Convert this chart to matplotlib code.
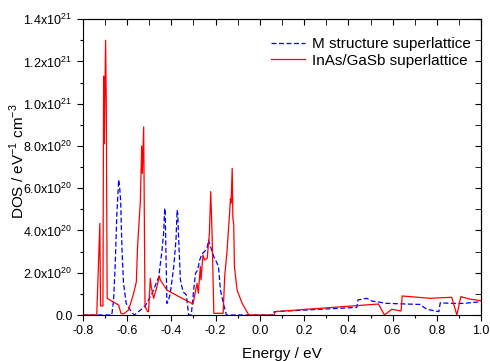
import matplotlib
matplotlib.use("Agg")
import matplotlib.pyplot as plt
from matplotlib.ticker import MultipleLocator

plt.rcParams['font.family'] = ['Liberation Sans', 'DejaVu Sans']
plt.rcParams['mathtext.fontset'] = 'custom'
plt.rcParams['mathtext.rm'] = 'Liberation Sans'

# InAs/GaSb superlattice (red, solid); DOS in units of 1e20
red_E = [-0.80, -0.737, -0.723, -0.720, -0.709, -0.706, -0.703, -0.697, -0.694, -0.690,
         -0.638, -0.628, -0.616, -0.593, -0.571, -0.558, -0.553, -0.540, -0.534, -0.531,
         -0.525, -0.519, -0.507, -0.503, -0.495, -0.491, -0.480, -0.465, -0.454, -0.450,
         -0.420, -0.389, -0.302, -0.284, -0.278, -0.269, -0.266, -0.257, -0.250, -0.238,
         -0.228, -0.222, -0.216, -0.208, -0.166, -0.159, -0.148, -0.137, -0.133, -0.130,
         -0.125, -0.122, -0.118, -0.115, -0.103, -0.080, -0.050, 0.065, 0.069, 0.536,
         0.563, 0.596, 0.638, 0.643, 0.770, 0.867, 0.890, 0.908, 0.950, 1.0]
red_D = [0.0, 0.0, 4.34, 0.43, 0.43, 11.3, 8.1, 13.0, 10.0, 0.79,
         0.47, 0.08, 0.05, 0.24, 1.0, 1.58, 3.15, 5.4, 8.0, 6.7,
         8.9, 0.4, 0.16, 0.16, 1.73, 1.35, 0.79, 1.34, 1.85, 1.66,
         1.18, 1.0, 0.52, 1.5, 1.03, 2.3, 1.66, 2.84, 2.6, 2.68,
         3.86, 5.84, 3.86, 0.08, 0.08, 1.8, 3.08, 4.8, 5.5, 5.3,
         6.94, 4.6, 4.3, 2.3, 1.18, 0.55, 0.0, 0.0, 0.16, 0.52,
         0.0, 0.27, 0.19, 0.9, 0.79, 0.84, 0.0, 0.87, 0.75, 0.68]

# M structure superlattice (blue, dashed)
blue_E = [-0.80, -0.669, -0.661, -0.654, -0.646, -0.638, -0.634, -0.629, -0.623, -0.616,
          -0.604, -0.586, -0.568, -0.548, -0.518, -0.488, -0.457, -0.442, -0.435, -0.430,
          -0.428, -0.426, -0.420, -0.415, -0.405, -0.389, -0.379, -0.374, -0.371, -0.368,
          -0.359, -0.347, -0.332, -0.322, -0.310, -0.299, -0.291, -0.281, -0.272, -0.261,
          -0.250, -0.238, -0.232, -0.223, -0.208, -0.193, -0.187, -0.178, -0.163, -0.151,
          0.062, 0.065, 0.438, 0.443, 0.483, 0.506, 0.574, 0.724, 0.754, 0.809,
          0.815, 0.860, 0.920, 1.0]
blue_D = [0.0, 0.0, 0.71, 2.3, 4.8, 6.4, 6.1, 5.4, 3.1, 1.5,
          0.55, 0.24, 0.0, 0.16, 0.43, 1.0, 1.8, 3.08, 3.86, 5.05,
          4.97, 3.86, 0.55, 0.63, 1.0, 2.3, 3.55, 4.97, 4.8, 3.86,
          1.66, 1.1, 0.95, 0.0, 0.0, 1.18, 1.97, 2.13, 2.6, 2.9,
          3.0, 3.2, 3.55, 3.23, 2.76, 2.44, 2.28, 1.18, 0.47, 0.0,
          0.0, 0.16, 0.36, 0.71, 0.79, 0.66, 0.55, 0.5, 0.27, 0.16,
          0.58, 0.55, 0.55, 0.63]

x_ticks = [-0.8, -0.6, -0.4, -0.2, 0.0, 0.2, 0.4, 0.6, 0.8, 1.0]
y_tick_labels = ['0.0', r'2.0x10$^{20}$', r'4.0x10$^{20}$', r'6.0x10$^{20}$', r'8.0x10$^{20}$',
                 r'1.0x10$^{21}$', r'1.2x10$^{21}$', r'1.4x10$^{21}$']

fig = plt.figure(figsize=(4.9, 3.61), dpi=100)
ax = fig.add_axes([0.169, 0.1274, 0.813, 0.8196])

ax.plot(blue_E, [d * 1e20 for d in blue_D], color='#0000ff', lw=0.9, ls=(0, (4, 2)),
        label='M structure superlattice')
ax.plot(red_E, [d * 1e20 for d in red_D], color='#ff0000', lw=0.9,
        label='InAs/GaSb superlattice')

ax.set_xlim(-0.8, 1.0)
ax.set_ylim(0, 1.4e21)
ax.set_xticks(x_ticks)
ax.set_xticklabels(['%.1f' % v for v in x_ticks])
ax.xaxis.set_minor_locator(MultipleLocator(0.1))
yt = [i * 2e20 for i in range(8)]
ax.set_yticks(yt)
ax.set_yticklabels(y_tick_labels)
ax.yaxis.set_minor_locator(MultipleLocator(1e20))

ax.tick_params(axis='both', which='major', direction='out', length=4, width=0.8,
               labelsize=9, colors='black')
ax.tick_params(axis='both', which='minor', direction='out', length=2.5, width=0.8)

# mirrored ticks on top/right, pointing inward
axt = ax.secondary_xaxis('top')
axt.set_xticks(x_ticks)
axt.xaxis.set_minor_locator(MultipleLocator(0.1))
axt.tick_params(which='both', direction='in', length=4, labeltop=False)
axr = ax.secondary_yaxis('right')
axr.set_yticks(yt)
axr.yaxis.set_minor_locator(MultipleLocator(1e20))
axr.tick_params(which='both', direction='in', length=4, labelright=False)

ax.set_xlabel('Energy / eV', fontsize=11, labelpad=7)
ax.set_ylabel(r'DOS / eV$^{-1}$ cm$^{-3}$', fontsize=11)
ax.yaxis.set_label_coords(-0.14, 0.52)

ax.legend(loc='upper right', frameon=False, fontsize=11, handlelength=2.2,
          borderaxespad=0.3, labelspacing=0.15, handletextpad=0.45,
          bbox_to_anchor=(1.0, 0.975))

fig.savefig('out.png', dpi=100)
